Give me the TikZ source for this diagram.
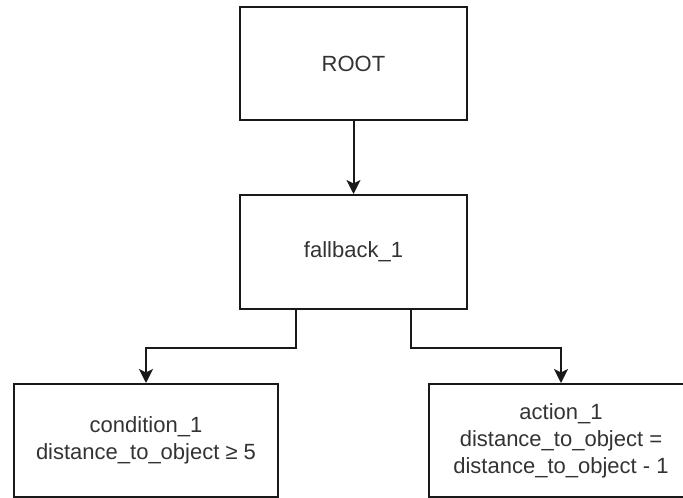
\documentclass[tikz,border=0pt]{standalone}
\usepackage{fontspec}
\setmainfont{Liberation Sans}
\usetikzlibrary{arrows.meta,calc}
\begin{document}
\begin{tikzpicture}[x=1pt,y=-1pt,
  box/.style={draw=black!90,line width=2pt,rectangle,inner sep=0pt,align=center,
    text=black!80,font=\fontsize{22}{27}\selectfont},
  link/.style={draw=black!90,line width=2pt,-{Stealth[length=14pt,width=14pt,inset=3.5pt]}}]
\useasboundingbox (0,0) rectangle (683,498);
\node[box,minimum width=227pt,minimum height=113pt] (root) at (353.5,63.5) {ROOT};
\node[box,minimum width=227pt,minimum height=114pt] (fb) at (353.5,252) {fallback\_1};
\node[box,minimum width=264pt,minimum height=113pt] (cond) at (146,440.5) {condition\_1\\distance\_to\_object ≥ 5};
\node[box,minimum width=264pt,minimum height=113pt] (act) at (561,440.5) {action\_1\\distance\_to\_object =\\distance\_to\_object - 1};
\coordinate (fl) at ($(fb.south west)!0.25!(fb.south east)$);
\coordinate (fr) at ($(fb.south west)!0.75!(fb.south east)$);
\draw[link] (root.south) -- (fb.north);
\draw[link] (fl) -- ++(0,37.5) -| (cond.north);
\draw[link] (fr) -- ++(0,37.5) -| (act.north);
\end{tikzpicture}
\end{document}
